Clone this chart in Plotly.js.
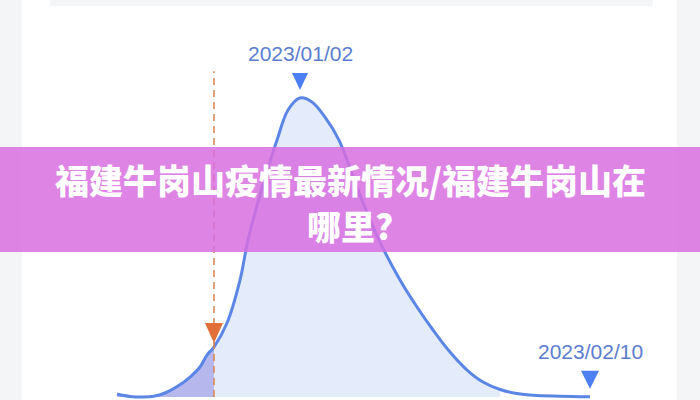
<!DOCTYPE html>
<html>
<head>
<meta charset="utf-8">
<script src="https://cdn.plot.ly/plotly-3.0.1.min.js"></script>
<style>html,body{margin:0;padding:0;background:#f4f5f7;}#chart{width:700px;height:400px;}</style>
</head>
<body>
<div id="chart"></div>
<script>
// ---- data ----
const baseDate = '2023-01-02';               // peak date
const dayOffsets = [-24.61, -22.86, -21.11, -19.5, -18.16, -16.41, -14.79, -13.45, -12.51, -11.57,
  -9.82, -8.07, -6.99, -5.11, -3.09, -1.61, 0, 1.61, 3.36, 5.24, 7.8, 10.62, 13.45, 15.73,
  17.89, 20.17, 22.46, 24.61, 26.9, 29.18, 31.33, 34.97, 39];
const values = [1.0, 0.17, 0, 0.33, 1.34, 3.68, 6.69, 10.03, 14.05, 16.72,
  24.75, 39.13, 52.5, 69.9, 85.95, 96.0, 100, 98.7, 93.6, 85.95, 69.2, 52.5, 39.13, 30.1,
  22.41, 15.05, 9.03, 5.02, 2.51, 1.17, 0.57, 0.27, 0.1];
const dividerIndex = 9;      // dashed line position
const blueFillEndIndex = 28; // light fill ends here
const peakIndex = 16;
const endIndex = dayOffsets.length - 1;
const peakLabel = '2023/01/02';
const endLabel = '2023/02/10';
const bannerLine1 = '福建牛岗山疫情最新情况/福建牛岗山在';
const bannerLine2 = '哪里?';

// ---- helpers ----
const baseMs = Date.parse(baseDate + 'T00:00:00Z');
function toDate(off) {
  return new Date(baseMs + off * 864e5).toISOString().replace('T', ' ').slice(0, 19);
}
const xs = dayOffsets.map(toDate);
const xRange = [toDate(-40.345), toDate(53.79)];
const yRange = [-1.0, 132.8];

const lineColor = '#5b86e6';
const traces = [
  {x: xs.slice(0, dividerIndex + 1), y: values.slice(0, dividerIndex + 1), type: 'scatter', mode: 'lines',
   line: {width: 0, shape: 'spline'}, fill: 'tozeroy', fillcolor: '#b6b7ec', hoverinfo: 'skip'},
  {x: xs.slice(dividerIndex, blueFillEndIndex + 1), y: values.slice(dividerIndex, blueFillEndIndex + 1), type: 'scatter', mode: 'lines',
   line: {width: 0, shape: 'spline'}, fill: 'tozeroy', fillcolor: '#e4ecfb', hoverinfo: 'skip'},
  {x: xs, y: values, type: 'scatter', mode: 'lines',
   line: {color: lineColor, width: 3, shape: 'spline', smoothing: 1}, hoverinfo: 'skip'}
];

function tri(xIdx, color, halfW, top, tip) {
  return {type: 'path', layer: 'above', xref: 'x', yref: 'y', xsizemode: 'pixel', ysizemode: 'pixel',
    xanchor: xs[xIdx], yanchor: values[xIdx],
    path: 'M ' + (-halfW) + ',' + top + ' L ' + halfW + ',' + top + ' L 0,' + tip + ' Z',
    fillcolor: color, line: {width: 0}};
}

const shapes = [
  // white panel
  {type: 'rect', layer: 'below', xref: 'paper', yref: 'paper', x0: 22/700, x1: 677/700, y0: -0.05, y1: 1.05,
   fillcolor: '#ffffff', line: {width: 0}},
  // top grey card edge
  {type: 'rect', layer: 'below', xref: 'paper', yref: 'paper', x0: 50/700, x1: 653/700, y0: 1 - 6/400, y1: 1.05,
   fillcolor: '#f4f5f7', line: {width: 0}},
  // dashed divider
  {type: 'line', layer: 'above', xref: 'x', yref: 'y', x0: xs[dividerIndex], x1: xs[dividerIndex], y0: 0, y1: 109,
   line: {color: '#d8834f', width: 1.5, dash: '7px,5px'}},
  tri(dividerIndex, '#e2703a', 9, 24, 4),
  tri(peakIndex, '#4b7ff2', 8, 25, 8),
  tri(endIndex, '#4b7ff2', 9, 26, 8),
  // banner
  {type: 'rect', layer: 'above', xref: 'paper', yref: 'paper', x0: -0.02, x1: 1.02, y0: 1 - 252/400, y1: 1 - 147/400,
   fillcolor: 'rgba(215,110,223,0.85)', line: {width: 0}}
];

const labelFont = {family: 'Liberation Sans, Arial, sans-serif', size: 21, color: '#5b7dcf'};
const bannerFont = {family: 'Noto Sans CJK SC, sans-serif', size: 34, color: '#ffffff', weight: 900};
const annotations = [
  {x: xs[peakIndex], y: values[peakIndex], xref: 'x', yref: 'y', text: peakLabel, showarrow: false,
   yshift: 45, font: labelFont, xanchor: 'center', yanchor: 'middle'},
  {x: xs[endIndex], y: values[endIndex], xref: 'x', yref: 'y', text: endLabel, showarrow: false,
   yshift: 45, font: labelFont, xanchor: 'center', yanchor: 'middle'},
  {x: 0.5, y: 1 - 180/400, xref: 'paper', yref: 'paper', text: bannerLine1, showarrow: false,
   font: bannerFont, xanchor: 'center', yanchor: 'middle'},
  {x: 0.5, y: 1 - 225/400, xref: 'paper', yref: 'paper', text: bannerLine2, showarrow: false,
   font: bannerFont, xanchor: 'center', yanchor: 'middle'}
];

const layout = {
  width: 700, height: 400,
  margin: {l: 0, r: 0, t: 0, b: 0, pad: 0},
  paper_bgcolor: '#f4f5f7', plot_bgcolor: 'rgba(0,0,0,0)',
  showlegend: false,
  xaxis: {type: 'date', range: xRange, visible: false, fixedrange: true},
  yaxis: {range: yRange, visible: false, fixedrange: true},
  shapes: shapes, annotations: annotations
};
Plotly.newPlot('chart', traces, layout, {staticPlot: true, displayModeBar: false});
</script>
</body>
</html>
